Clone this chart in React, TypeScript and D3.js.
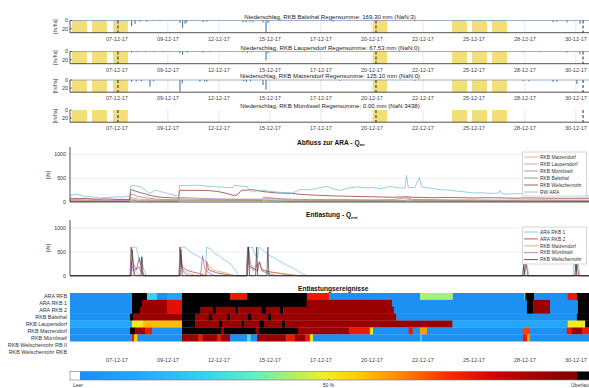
import React from 'react';
import * as d3 from 'd3';

// ---------------- data ----------------
const dayStart = 5.2;
const dayEnd = 31;
const tickDays = [7.5, 10, 12.5, 15, 17.5, 20, 22.5, 25, 27.5, 30];
const tickLabels = ['07-12-17', '09-12-17', '12-12-17', '15-12-17', '17-12-17', '20-12-17', '22-12-17', '25-12-17', '28-12-17', '30-12-17'];

const yellowSpans: [number, number][] = [[5.3, 6.03], [6.28, 7.01], [7.31, 8.04], [20.05, 20.74], [23.93, 24.66], [24.9, 25.64], [25.89, 26.62]];
const markerDays = [7.55, 20.2, 30.35];

const rainTitles = [
  'Niederschlag, RKB Balsthal Regensumme: 169.30 mm (NaN:3)',
  'Niederschlag, RKB Laupersdorf  Regensumme: 67.53 mm (NaN:0)',
  'Niederschlag, RKB Matzendorf  Regensumme: 125.10 mm (NaN:0)',
  'Niederschlag, RKB Mümliswil Regensumme: 0.00 mm (NaN:3438)',
];
const rainTicks = [0, 20];
const rainBalsthal: [number, number][] = [
  [8.22, 14], [8.39, 8], [8.63, 3], [8.96, 3], [9.61, 2], [10.59, 6], [10.72, 18], [10.84, 8], [10.92, 5],
  [11.72, 4], [11.9, 3], [13.68, 4], [13.83, 5], [14.02, 3], [14.17, 4], [14.66, 5], [14.81, 28], [14.91, 6],
  [15.49, 2], [18.09, 3], [22.11, 2], [25.79, 2], [25.94, 2], [28.88, 4], [29.07, 3], [29.56, 5], [30.2, 8],
];
const rainLaupersdorf: [number, number][] = [
  [8.22, 3], [8.5, 2], [8.9, 2], [9.3, 2], [9.76, 2], [10.59, 4], [10.72, 8], [10.95, 3], [11.72, 3], [12.1, 2],
  [13.7, 2], [13.9, 3], [14.1, 2], [14.81, 22], [14.9, 4], [27.41, 2], [28.24, 2], [29.56, 3], [30.2, 6],
];
const rainMatzendorf: [number, number][] = [
  [8.22, 4], [8.45, 3], [8.7, 3], [9.12, 16], [9.3, 3], [10.59, 28], [10.7, 8], [11.57, 4], [11.8, 3], [11.9, 4],
  [13.7, 3], [13.85, 5], [14.05, 3], [14.66, 12], [14.81, 24], [18.44, 2], [22.11, 2], [27.41, 3], [27.7, 3],
  [28.88, 5], [29.07, 4], [30.05, 10],
];
const rainMuemliswil: [number, number][] = [];

const qTicks = [0, 500, 1000];
const qNames = ['RKB Matzendorf', 'RKB Laupersdorf', 'RKB Mümliswil', 'RKB Balsthal', 'RKB Welschenrohr', 'RW ARA'];
const qMatzendorf: [number, number][] = [[5.2, 20], [8.12, 20], [8.18, 60], [8.6, 35], [10.52, 25], [10.57, 50], [12, 35], [14.6, 30], [14.7, 55], [16, 30], [20, 25], [21.62, 25], [21.7, 70], [22, 30], [25, 22], [31, 20]];
const qLaupersdorf: [number, number][] = [[5.2, 30], [7, 28], [8.12, 30], [8.18, 90], [8.6, 60], [9.5, 40], [10.52, 35], [10.57, 70], [11.5, 55], [13, 45], [14.6, 42], [14.7, 80], [16, 45], [18, 35], [20, 32], [22, 40], [24, 30], [27, 28], [31, 28]];
const qMuemliswil: [number, number][] = [[5.2, 50], [6, 45], [7, 40], [8.12, 40], [8.18, 170], [8.5, 120], [8.9, 90], [9.5, 60], [10.52, 45], [10.57, 95], [11.5, 80], [12.5, 65], [13.5, 60], [14.6, 60], [14.7, 105], [15.2, 80], [16, 60], [17, 50], [18, 55], [19, 50], [20, 45], [21, 50], [21.7, 90], [22, 55], [23, 50], [24, 45], [25, 45], [26, 40], [27, 40], [28, 45], [29, 40], [31, 40]];
const qBalsthal: [number, number][] = [[5.2, 12], [8.12, 12], [8.18, 40], [8.6, 20], [10.52, 18], [10.57, 35], [12, 38], [13.5, 40], [14.7, 35], [16, 18], [22, 20], [31, 12]];
const qWelschenrohr: [number, number][] = [
  [5.2, 80], [5.6, 70], [6.0, 75], [6.5, 60], [7.0, 65], [7.5, 55], [8.12, 55], [8.18, 265], [8.4, 230], [8.63, 200], [8.9, 170],
  [9.12, 140], [9.4, 115], [9.7, 100], [10.1, 90], [10.52, 80], [10.57, 245], [11.0, 245], [11.57, 245], [12.0, 240], [12.4, 225],
  [12.9, 180], [13.2, 140], [13.4, 150], [13.6, 245], [13.88, 250], [14.17, 260], [14.4, 240], [14.66, 220], [15.0, 205], [15.35, 190],
  [15.8, 185], [16.13, 180], [16.5, 160], [17.0, 150], [17.5, 140], [18.0, 130], [18.5, 125], [19.0, 120], [19.5, 115], [20.0, 110],
  [20.5, 105], [21.0, 100], [21.7, 110], [22.0, 100], [22.5, 95], [23.0, 90], [23.5, 95], [24.0, 95], [24.5, 90], [25.0, 85],
  [25.5, 90], [26.0, 90], [26.5, 85], [27.0, 80], [27.5, 85], [28.0, 85], [28.5, 80], [29.0, 80], [29.5, 78], [30.0, 80], [31, 80],
];
const qRwAra: [number, number][] = [
  [5.2, 140], [5.45, 160], [5.7, 150], [5.95, 110], [6.2, 120], [6.45, 95], [6.7, 80], [6.95, 100], [7.2, 95], [7.45, 110], [7.7, 100],
  [7.95, 120], [8.12, 125], [8.18, 345], [8.4, 340], [8.63, 330], [8.78, 290], [8.95, 230], [9.12, 180], [9.3, 230], [9.46, 250],
  [9.6, 220], [9.76, 210], [9.95, 185], [10.1, 165], [10.3, 140], [10.52, 125], [10.57, 350], [10.9, 345], [11.3, 355], [11.57, 350],
  [12.0, 330], [12.41, 320], [12.8, 310], [13.19, 300], [13.25, 355], [13.5, 340], [13.88, 320], [14.0, 250], [14.17, 210], [14.4, 240],
  [14.66, 250], [14.9, 230], [15.35, 210], [15.7, 200], [16.13, 190], [16.4, 250], [16.7, 270], [16.96, 255], [17.3, 290], [17.8, 330],
  [18.1, 280], [18.44, 245], [18.8, 290], [19.27, 320], [19.6, 300], [20.05, 305], [20.4, 280], [20.89, 330], [21.3, 300], [21.62, 290],
  [21.7, 560], [21.78, 310], [22.1, 300], [22.33, 520], [22.45, 320], [22.9, 290], [23.34, 260], [23.8, 250], [24.17, 230], [24.6, 210],
  [24.95, 190], [25.4, 195], [25.79, 180], [26.2, 190], [26.28, 245], [26.38, 175], [26.62, 165], [27.0, 175], [27.41, 180], [28.0, 170],
  [28.5, 160], [29.0, 155], [29.5, 150], [30.0, 140], [30.64, 130], [31, 130],
];

const eNames = ['ARA RKB 1', 'ARA RKB 2', 'RKB Matzendorf', 'RKB Mümliswil', 'RKB Welschenrohr'];
const eAraRkb1: [number, number][] = [
  [5.2, 0], [8.15, 0], [8.18, 600], [8.45, 600], [8.55, 420], [8.65, 250], [8.72, 380], [8.8, 150], [8.95, 0], [10.55, 0], [10.6, 600],
  [10.85, 600], [11.0, 540], [11.2, 470], [11.4, 430], [11.6, 380], [11.75, 330], [11.85, 290], [11.9, 600], [12.1, 560], [12.3, 470],
  [12.5, 420], [12.7, 350], [12.9, 300], [13.1, 230], [13.3, 120], [13.45, 0], [13.85, 0], [13.9, 600], [14.15, 600], [14.3, 420],
  [14.4, 380], [14.45, 600], [14.6, 560], [14.8, 480], [15.0, 420], [15.2, 380], [15.5, 300], [15.8, 230], [16.1, 170], [16.4, 90],
  [16.6, 40], [16.8, 0], [27.35, 0], [27.42, 180], [27.5, 60], [27.6, 230], [27.7, 0], [29.85, 0], [29.92, 300], [30.0, 80], [30.1, 320],
  [30.2, 0], [31, 0],
];
const eAraRkb2: [number, number][] = [
  [5.2, 0], [8.15, 0], [8.2, 600], [8.3, 250], [8.45, 120], [8.6, 380], [8.7, 120], [8.85, 0], [10.55, 0], [10.62, 600], [10.7, 200],
  [10.9, 120], [11.2, 80], [11.5, 50], [11.85, 0], [11.9, 300], [12.0, 120], [12.4, 60], [12.8, 30], [13.2, 0], [13.85, 0], [13.92, 600],
  [14.0, 200], [14.4, 100], [14.48, 280], [14.6, 120], [15.0, 80], [15.5, 50], [16.0, 20], [16.4, 0], [27.45, 0], [27.55, 260],
  [27.65, 0], [30.0, 0], [30.05, 250], [30.15, 0], [31, 0],
];
const eMatzendorf: [number, number][] = [
  [5.2, 0], [8.3, 0], [8.35, 120], [8.5, 60], [8.6, 0], [10.55, 0], [10.6, 600], [10.65, 200], [10.8, 100], [11.0, 50], [11.4, 0],
  [11.9, 0], [11.95, 250], [12.2, 120], [12.6, 80], [13.0, 40], [13.3, 0], [13.85, 0], [13.9, 350], [14.05, 150], [14.45, 250],
  [14.7, 120], [15.2, 60], [15.8, 30], [16.3, 0], [31, 0],
];
const eMuemliswil: [number, number][] = [
  [5.2, 0], [8.15, 0], [8.2, 300], [8.3, 100], [8.6, 180], [8.7, 40], [8.8, 0], [10.55, 0], [10.58, 600], [10.66, 300], [10.75, 80],
  [11.0, 0], [11.6, 0], [11.7, 420], [11.8, 150], [12.0, 60], [12.3, 0], [13.85, 0], [13.95, 600], [14.05, 250], [14.2, 100],
  [14.5, 300], [14.6, 100], [14.9, 50], [15.3, 0], [31, 0],
];
const eWelschenrohr: [number, number][] = [
  [5.2, 0], [8.2, 0], [8.25, 550], [8.32, 100], [8.4, 0], [8.68, 0], [8.72, 400], [8.78, 0], [10.6, 0], [10.63, 550], [10.7, 0],
  [13.9, 0], [13.95, 600], [14.0, 0], [14.3, 0], [14.35, 600], [14.4, 0], [14.85, 0], [14.9, 600], [14.95, 0], [27.4, 0], [27.45, 250],
  [27.5, 0], [29.95, 0], [30.0, 300], [30.05, 0], [31, 0],
];

const OF = 110; // Überlauf
const hmRows = ['ARA RFB', 'ARA RKB 1', 'ARA RKB 2', 'RKB Balsthal', 'RKB Laupersdorf', 'RKB Matzendorf', 'RKB Mümliswil', 'RKB Welschenrohr RB II', 'RKB Welschenrohr RKB'];
const hmAraRfb: [number, number, number][] = [[5.2, 8.24, 2], [8.24, 8.97, OF], [8.97, 9.46, 25], [9.46, 9.95, 2], [9.95, 10.69, 10], [10.69, 13.04, OF], [13.04, 13.88, 78], [13.88, 16.82, OF], [16.82, 17.9, 78], [17.9, 22.36, 2], [22.36, 23.97, 42], [23.97, 27.45, 2], [27.45, 27.52, 25], [27.52, 27.95, OF], [27.95, 29.6, 2], [29.6, 30.05, 78], [30.05, 31, OF]];
const hmAraRkb1: [number, number, number][] = [[5.2, 8.24, 2], [8.24, 8.73, OF], [8.73, 9.95, 94], [9.95, 10.69, 80], [10.69, 16.8, OF], [16.8, 20.98, 94], [20.98, 27.6, 2], [27.6, 27.9, OF], [27.9, 28.73, 94], [28.73, 30.1, 2], [30.1, 31, OF]];
const hmAraRkb2: [number, number, number][] = [[5.2, 8.24, 2], [8.24, 8.63, OF], [8.63, 9.95, 94], [9.95, 10.69, 80], [10.69, 11.6, OF], [11.6, 12.2, 94], [12.2, 12.35, OF], [12.35, 13.3, 94], [13.3, 13.45, OF], [13.45, 14.6, 94], [14.6, 14.8, OF], [14.8, 15.5, 94], [15.5, 15.65, OF], [15.65, 21.08, 94], [21.08, 27.6, 2], [27.6, 27.9, OF], [27.9, 28.73, 94], [28.73, 30.1, 2], [30.1, 31, OF]];
const hmBalsthal: [number, number, number][] = [[5.2, 8.14, 2], [8.14, 8.29, OF], [8.29, 10.69, 94], [10.69, 11.33, OF], [11.33, 12.0, 94], [12.0, 12.15, OF], [12.15, 12.9, 94], [12.9, 13.05, OF], [13.05, 13.9, 94], [13.9, 14.1, OF], [14.1, 14.9, 94], [14.9, 15.05, OF], [15.05, 21.2, 94], [21.2, 30.05, 2], [30.05, 31, OF]];
const hmLaupersdorf: [number, number, number][] = [[5.2, 8.24, 12], [8.24, 8.78, 50], [8.78, 10.69, 58], [10.69, 11.33, OF], [11.33, 12.5, 94], [12.5, 12.65, OF], [12.65, 13.6, 94], [13.6, 13.75, OF], [13.75, 14.5, 94], [14.5, 14.7, OF], [14.7, 15.6, 94], [15.6, 15.75, OF], [15.75, 23.95, 94], [23.95, 29.6, 12], [29.6, 30.45, 50], [30.45, 31, OF]];
const hmMatzendorf: [number, number, number][] = [[5.2, 8.14, 2], [8.14, 8.39, OF], [8.39, 8.88, 94], [8.88, 9.22, 78], [9.22, 10.69, 2], [10.69, 12.6, OF], [12.6, 12.75, 94], [12.75, 14.3, OF], [14.3, 14.45, 94], [14.45, 16.37, OF], [16.37, 18.9, 94], [18.9, 19.9, 78], [19.9, 20.05, 50], [20.05, 21.8, 2], [21.8, 22.0, 78], [22.0, 22.36, 2], [22.36, 22.7, 62], [22.7, 27.4, 2], [27.4, 27.75, 72], [27.75, 29.55, 2], [29.55, 29.8, 78], [29.8, 30.3, 94], [30.3, 31, 78]];
const hmMuemliswil: [number, number, number][] = [[5.2, 8.24, 2], [8.24, 8.34, 78], [8.34, 8.5, 56], [8.5, 10.69, 2], [10.69, 11.5, 94], [11.5, 11.7, 78], [11.7, 12.4, 94], [12.4, 12.6, 78], [12.6, 13.04, 94], [13.04, 13.88, 2], [13.88, 14.05, 30], [14.05, 14.37, 2], [14.37, 15.8, 94], [15.8, 16.23, 78], [16.23, 16.72, 94], [16.72, 16.96, 78], [16.96, 17.11, 50], [17.11, 22.36, 2], [22.36, 22.45, 25], [22.45, 27.4, 2], [27.4, 27.6, 78], [27.6, 27.75, 62], [27.75, 31, 2]];
const hmWelschRb2: [number, number, number][] = [];
const hmWelschRkb: [number, number, number][] = [];

const cmapStops: [number, string][] = [
  [0, '#1c8cf2'], [12, '#22a8fa'], [25, '#30d4f4'], [35, '#62efc0'], [42, '#a8f070'], [49, '#f0f020'],
  [56, '#ffcc00'], [64, '#ff8c00'], [74, '#ff2a00'], [84, '#d00000'], [93, '#a00000'], [100, '#800000'],
];
const cbLabels = ['Leer', '50 %', 'Überlauf'];

// ---------------- component ----------------
const FONT = "'Liberation Sans', Arial, Helvetica, sans-serif";
const W = 589;
const H = 388;

export default function App() {
  const x = d3.scaleLinear().domain([dayStart, dayEnd]).range([70, 596.3]);
  const L = 70;
  const R = 596.3;

  const rainData = [rainBalsthal, rainLaupersdorf, rainMatzendorf, rainMuemliswil];
  const rainTops = [20.5, 51.5, 80, 110];
  const rainH = 12.2;

  const qSeries = [qMatzendorf, qLaupersdorf, qMuemliswil, qBalsthal, qWelschenrohr, qRwAra];
  const qColors = ['#eba35c', '#d98a9a', '#a872b8', '#6e8f4a', '#8c3a2c', '#74bdd8'];
  const eSeries = [eAraRkb1, eAraRkb2, eMatzendorf, eMuemliswil, eWelschenrohr];
  const eColors = ['#74bdd8', '#a33a2e', '#e59a52', '#9b63b0', '#333333'];
  const hmData = [hmAraRfb, hmAraRkb1, hmAraRkb2, hmBalsthal, hmLaupersdorf, hmMatzendorf, hmMuemliswil, hmWelschRb2, hmWelschRkb];

  const yQ = d3.scaleLinear().domain([0, 1150]).range([202, 147.5]);
  const yE = d3.scaleLinear().domain([0, 1150]).range([275.7, 221]);

  const cmap = d3.scaleLinear<string>().domain(cmapStops.map(s => s[0])).range(cmapStops.map(s => s[1])).interpolate(d3.interpolateRgb).clamp(true);
  const cellColor = (v: number) => (v > 100 ? '#000000' : cmap(v));

  const lineQ = d3.line<[number, number]>().x(d => x(d[0])).y(d => yQ(d[1]));
  const lineE = d3.line<[number, number]>().x(d => x(d[0])).y(d => yE(d[1]));

  const hmTop = 293;
  const rowH = 6.9;
  const cbX0 = 70, cbWhite = 80, cbBlack = 577, cbY = 371.5, cbH = 8.5;
  const cbScale = d3.scaleLinear().domain([0, 100]).range([cbWhite, cbBlack]);

  const axisCol = '#262626';
  const txtCol = '#333';

  return (
    <svg width={W} height={H} style={{ position: 'absolute', left: 0, top: 0 }} fontFamily={FONT}>
      <defs>
        <linearGradient id="cbGrad" gradientUnits="userSpaceOnUse" x1={cbWhite} x2={cbBlack} y1={0} y2={0}>
          {cmapStops.map((s, i) => <stop key={i} offset={`${s[0]}%`} stopColor={s[1]} />)}
        </linearGradient>
        <clipPath id="plotClip"><rect x={L} y={0} width={R - L} height={H} /></clipPath>
      </defs>
      <rect x={0} y={0} width={W} height={H} fill="#fff" />

      {/* ---------- rain panels ---------- */}
      {rainData.map((data, p) => {
        const top = rainTops[p];
        const bottom = top + rainH;
        const yR = d3.scaleLinear().domain([0, 30]).range([top, bottom]);
        return (
          <g key={p}>
            <text x={330} y={top - 2} fontSize={6.1} textAnchor="middle" fill="#222">{rainTitles[p]}</text>
            {yellowSpans.map((s, i) => (
              <rect key={i} x={x(s[0])} y={top} width={x(s[1]) - x(s[0])} height={rainH} fill="#f3df78" />
            ))}
            {tickDays.map((t, i) => (
              <line key={i} x1={x(t)} x2={x(t)} y1={top} y2={bottom} stroke="#d6d6d6" strokeWidth={0.6} />
            ))}
            {data.length > 0 && <line x1={L} x2={R} y1={yR(0)} y2={yR(0)} stroke="#6f8fb2" strokeWidth={0.7} />}
            {data.map((d, i) => (
              <line key={i} x1={x(d[0])} x2={x(d[0])} y1={yR(0)} y2={yR(d[1])} stroke="#4b77a6" strokeWidth={1.1} />
            ))}
            {markerDays.map((m, i) => (
              <line key={i} x1={x(m)} x2={x(m)} y1={top} y2={bottom} stroke="#111" strokeWidth={0.9} strokeDasharray="3,2" />
            ))}
            <line x1={L} x2={R} y1={bottom} y2={bottom} stroke={axisCol} strokeWidth={0.8} />
            <line x1={L} x2={L} y1={top} y2={bottom} stroke={axisCol} strokeWidth={0.8} />
            {rainTicks.map((t, i) => (
              <g key={i}>
                <line x1={L} x2={L + 2} y1={yR(t)} y2={yR(t)} stroke={axisCol} strokeWidth={0.6} />
                <text x={68} y={yR(t)} dy="0.35em" fontSize={5.5} textAnchor="end" fill={txtCol}>{t}</text>
              </g>
            ))}
            <text transform={`translate(55,${(top + bottom) / 2}) rotate(-90)`} fontSize={4.8} textAnchor="middle" dy="0.35em" fill={txtCol}>[l/s/ha]</text>
            {tickDays.map((t, i) => (
              <text key={i} x={x(t)} y={bottom + 8} fontSize={5.5} textAnchor="middle" fill="#444">{tickLabels[i]}</text>
            ))}
          </g>
        );
      })}

      {/* ---------- Abfluss zur ARA ---------- */}
      <text x={297} y={144.5} fontSize={6.6} fontWeight="bold" fill="#111">Abfluss zur ARA - Q<tspan fontSize={4.3} dy={1.6}>an</tspan></text>
      {qTicks.slice(1).map((t, i) => (
        <line key={i} x1={L} x2={R} y1={yQ(t)} y2={yQ(t)} stroke="#e2e2e2" strokeWidth={0.6} />
      ))}
      <g clipPath="url(#plotClip)">
        {qSeries.map((s, i) => (
          <path key={i} d={lineQ(s) || ''} fill="none" stroke={qColors[i]} strokeWidth={0.75} />
        ))}
      </g>
      <line x1={L} x2={R} y1={yQ(0)} y2={yQ(0)} stroke={axisCol} strokeWidth={0.8} />
      <line x1={L} x2={L} y1={147} y2={yQ(0)} stroke={axisCol} strokeWidth={0.8} />
      {qTicks.map((t, i) => (
        <text key={i} x={66} y={yQ(t)} dy="0.35em" fontSize={5.3} textAnchor="end" fill={txtCol}>{t}</text>
      ))}
      <text transform={`translate(48,175) rotate(-90)`} fontSize={5} textAnchor="middle" dy="0.35em" fill={txtCol}>[l/s]</text>
      <rect x={522.5} y={152} width={64} height={44} fill="#fff" stroke="#bdbdbd" strokeWidth={0.6} />
      {qNames.map((n, i) => {
        const yy = 157 + i * 7;
        return (
          <g key={i}>
            <line x1={524} x2={538} y1={yy} y2={yy} stroke={qColors[i]} strokeWidth={0.8} />
            <text x={540} y={yy} dy="0.35em" fontSize={4.9} fill={txtCol}>{n}</text>
          </g>
        );
      })}

      {/* ---------- Entlastung ---------- */}
      <text x={306} y={217} fontSize={6.6} fontWeight="bold" fill="#111">Entlastung - Q<tspan fontSize={4.3} dy={1.6}>ent</tspan></text>
      {qTicks.slice(1).map((t, i) => (
        <line key={i} x1={L} x2={R} y1={yE(t)} y2={yE(t)} stroke="#e2e2e2" strokeWidth={0.6} />
      ))}
      <g clipPath="url(#plotClip)">
        {eSeries.map((s, i) => (
          <path key={i} d={lineE(s) || ''} fill="none" stroke={eColors[i]} strokeWidth={0.7} />
        ))}
      </g>
      <line x1={L} x2={R} y1={yE(0)} y2={yE(0)} stroke={axisCol} strokeWidth={0.8} />
      <line x1={L} x2={L} y1={220} y2={yE(0)} stroke={axisCol} strokeWidth={0.8} />
      {qTicks.map((t, i) => (
        <text key={i} x={66} y={yE(t)} dy="0.35em" fontSize={5.3} textAnchor="end" fill={txtCol}>{t}</text>
      ))}
      <text transform={`translate(48,248) rotate(-90)`} fontSize={5} textAnchor="middle" dy="0.35em" fill={txtCol}>[l/s]</text>
      <rect x={522.5} y={227} width={64} height={37} fill="#fff" stroke="#bdbdbd" strokeWidth={0.6} />
      {eNames.map((n, i) => {
        const yy = 232 + i * 6.9;
        return (
          <g key={i}>
            <line x1={524} x2={538} y1={yy} y2={yy} stroke={eColors[i]} strokeWidth={0.8} />
            <text x={540} y={yy} dy="0.35em" fontSize={4.9} fill={txtCol}>{n}</text>
          </g>
        );
      })}

      {/* ---------- Entlastungsereignisse heatmap ---------- */}
      <text x={298} y={291} fontSize={6.6} fontWeight="bold" fill="#111">Entlastungsereignisse</text>
      {hmData.map((row, r) => (
        <g key={r}>
          {row.map((c, i) => (
            <rect key={i} x={x(c[0])} y={hmTop + r * rowH} width={x(c[1]) - x(c[0]) + 0.3} height={rowH + 0.2} fill={cellColor(c[2])} />
          ))}
          <text x={67} y={hmTop + r * rowH + rowH / 2} dy="0.35em" fontSize={5.4} textAnchor="end" fill={txtCol}>{hmRows[r]}</text>
        </g>
      ))}
      {tickDays.map((t, i) => (
        <text key={i} x={x(t)} y={362} fontSize={5.5} textAnchor="middle" fill="#444">{tickLabels[i]}</text>
      ))}

      {/* ---------- colorbar ---------- */}
      <rect x={cbX0} y={cbY} width={cbWhite - cbX0} height={cbH} fill="#fff" />
      <rect x={cbWhite} y={cbY} width={cbBlack - cbWhite} height={cbH} fill="url(#cbGrad)" />
      <rect x={cbBlack} y={cbY} width={R - cbBlack} height={cbH} fill="#000" />
      <rect x={cbX0} y={cbY} width={R - cbX0} height={cbH} fill="none" stroke="#777" strokeWidth={0.6} />
      <line x1={cbScale(50)} x2={cbScale(50)} y1={cbY + cbH} y2={cbY + cbH - 1.5} stroke="#555" strokeWidth={0.5} />
      <text x={73} y={387} fontSize={5} fill={txtCol}>{cbLabels[0]}</text>
      <text x={cbScale(50)} y={387} fontSize={5} textAnchor="middle" fill={txtCol}>{cbLabels[1]}</text>
      <text x={571} y={387} fontSize={5} fill={txtCol}>{cbLabels[2]}</text>
    </svg>
  );
}
